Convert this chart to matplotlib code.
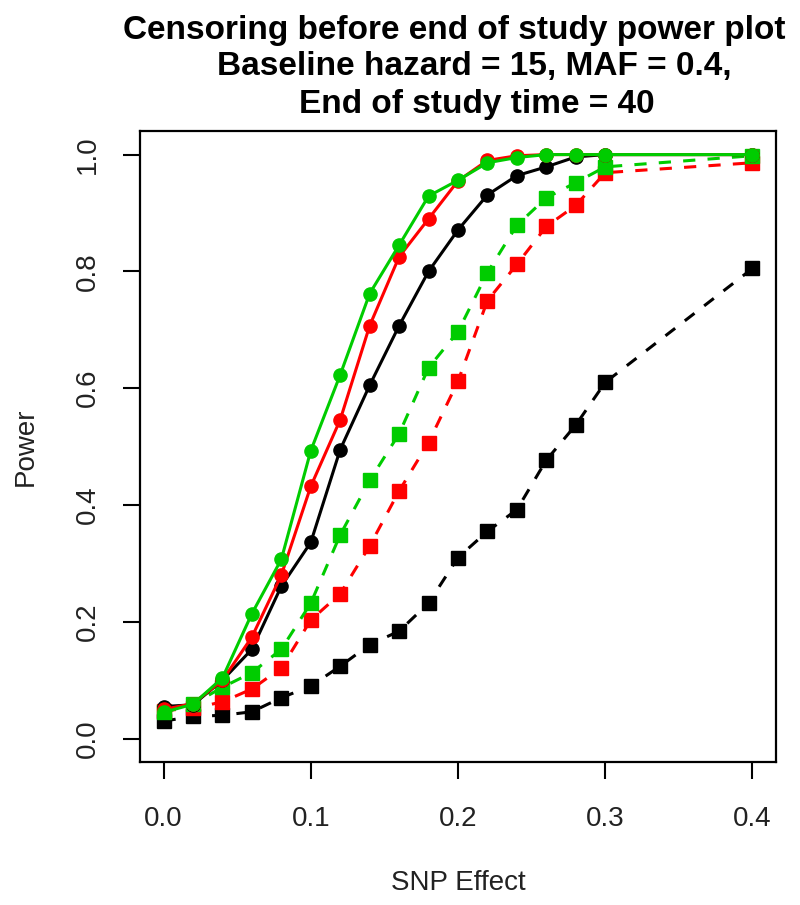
import numpy as np
import matplotlib
matplotlib.use('Agg')
import matplotlib.pyplot as plt

plt.rcParams['font.family'] = ['Liberation Sans', 'DejaVu Sans']

# SNP effect sizes
snp_effect = [0.00, 0.02, 0.04, 0.06, 0.08, 0.10, 0.12, 0.14, 0.16, 0.18,
              0.20, 0.22, 0.24, 0.26, 0.28, 0.30, 0.40]

# solid lines (circles)
black_solid = [0.055, 0.058, 0.100, 0.153, 0.261, 0.336, 0.495, 0.605, 0.707, 0.800,
               0.871, 0.931, 0.964, 0.979, 0.996, 1.000, 1.000]
red_solid = [0.050, 0.060, 0.100, 0.174, 0.280, 0.432, 0.546, 0.707, 0.825, 0.890,
             0.955, 0.990, 0.998, 1.000, 1.000, 1.000, 1.000]
green_solid = [0.045, 0.059, 0.104, 0.214, 0.307, 0.493, 0.623, 0.762, 0.845, 0.929,
               0.956, 0.986, 0.995, 1.000, 1.000, 1.000, 1.000]

# dashed lines (squares)
black_dashed = [0.030, 0.038, 0.040, 0.046, 0.070, 0.090, 0.124, 0.161, 0.184, 0.232,
                0.310, 0.355, 0.392, 0.477, 0.537, 0.610, 0.805]
red_dashed = [0.048, 0.052, 0.063, 0.085, 0.121, 0.203, 0.248, 0.330, 0.424, 0.507,
              0.612, 0.750, 0.812, 0.877, 0.913, 0.969, 0.986]
green_dashed = [0.045, 0.059, 0.088, 0.113, 0.153, 0.232, 0.349, 0.442, 0.522, 0.635,
                0.697, 0.798, 0.879, 0.926, 0.952, 0.979, 0.998]

title_lines = ['Censoring before end of study power plot',
               'Baseline hazard = 15, MAF = 0.4,',
               'End of study time = 40']

green = '#00CC00'

fig = plt.figure(figsize=(8, 9.05), dpi=100)
ax = fig.add_axes([0.175, 0.158, 0.795, 0.697])

# dashed first so the solid ones sit on top
for y, c in [(black_dashed, 'black'), (red_dashed, 'red'), (green_dashed, green)]:
    ax.plot(snp_effect, y, color=c, lw=2.2, ls=(0, (4, 4)), marker='s', ms=9.5)
for y, c in [(black_solid, 'black'), (red_solid, 'red'), (green_solid, green)]:
    ax.plot(snp_effect, y, color=c, lw=2.2, ls='-', marker='o', ms=9.5)

ax.set_xlim(-0.016, 0.416)
ax.set_ylim(-0.04, 1.04)
ax.set_xticks([0.0, 0.1, 0.2, 0.3, 0.4])
ax.set_yticks([0.0, 0.2, 0.4, 0.6, 0.8, 1.0])
ax.set_xticklabels(['0.0', '0.1', '0.2', '0.3', '0.4'])
ax.set_yticklabels(['0.0', '0.2', '0.4', '0.6', '0.8', '1.0'], rotation=90, va='center')
ax.tick_params(axis='both', direction='out', length=12, width=1.5, labelsize=20,
               labelcolor='#222222')
ax.tick_params(axis='x', pad=20)
ax.tick_params(axis='y', pad=16)
for s in ax.spines.values():
    s.set_linewidth(1.6)

ax.set_xlabel('SNP Effect', fontsize=20, labelpad=27, color='#222222')
ax.set_ylabel('Power', fontsize=20, labelpad=26, color='#222222')

# title, three centred lines
for txt, xc, yc in zip(title_lines, [454, 474, 477], [30, 67, 104]):
    fig.text(xc / 800, 1 - yc / 905, txt, ha='center', va='center',
             fontsize=24, fontweight='bold')

plt.savefig('out.png', dpi=100)
